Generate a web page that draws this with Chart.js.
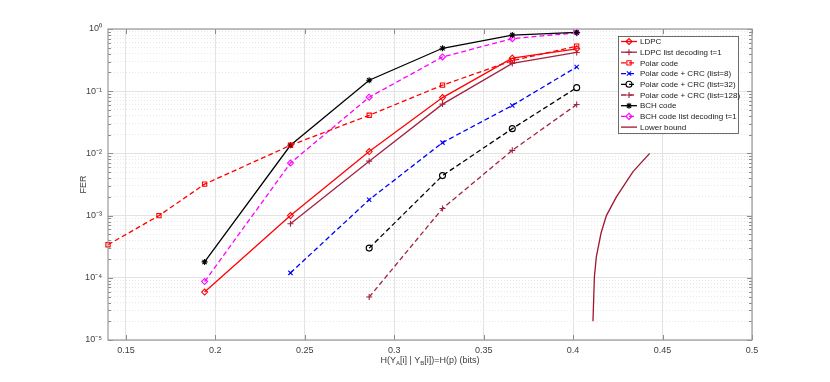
<!DOCTYPE html>
<html>
<head>
<meta charset="utf-8">
<script src="https://cdn.jsdelivr.net/npm/chart.js@4/dist/chart.umd.min.js"></script>
<style>
  html, body { margin: 0; padding: 0; background: #fff; }
  #wrap { width: 830px; height: 382px; }
</style>
</head>
<body>
<div id="wrap"><canvas id="ferChart" width="830" height="382"></canvas></div>
<script>
// x = H(p) in bits, y = FER
const ldpcX = [0.194, 0.242, 0.286, 0.327, 0.366, 0.402];
const ldpcFER = [5.9e-5, 1.0e-3, 1.07e-2, 7.9e-2, 0.34, 0.48];
const ldpcListX = [0.242, 0.286, 0.327, 0.366, 0.402];
const ldpcListFER = [7.4e-4, 7.5e-3, 6.2e-2, 0.28, 0.42];
const polarX = [0.140, 0.1685, 0.194, 0.242, 0.286, 0.327, 0.366, 0.402];
const polarFER = [3.4e-4, 1.0e-3, 3.2e-3, 1.35e-2, 4.1e-2, 0.125, 0.31, 0.53];
const crc8X = [0.242, 0.286, 0.327, 0.366, 0.402];
const crc8FER = [1.2e-4, 1.8e-3, 1.49e-2, 5.9e-2, 0.245];
const crc32X = [0.286, 0.327, 0.366, 0.402];
const crc32FER = [3.0e-4, 4.4e-3, 2.5e-2, 0.114];
const crc128X = [0.286, 0.327, 0.366, 0.402];
const crc128FER = [4.9e-5, 1.3e-3, 1.12e-2, 6.1e-2];
const bchX = [0.194, 0.242, 0.286, 0.327, 0.366, 0.402];
const bchFER = [1.8e-4, 1.35e-2, 0.15, 0.49, 0.80, 0.88];
const bchListX = [0.194, 0.242, 0.286, 0.327, 0.366, 0.402];
const bchListFER = [8.7e-5, 7.0e-3, 8.0e-2, 0.355, 0.70, 0.87];
const boundX = [0.4111, 0.4119, 0.4130, 0.4156, 0.4186, 0.4242, 0.4335, 0.4428];
const boundFER = [2.0e-5, 1.04e-4, 2.2e-4, 5.2e-4, 1.0e-3, 2.0e-3, 5.1e-3, 1.0e-2];

const xTicks = [0.15, 0.2, 0.25, 0.3, 0.35, 0.4, 0.45, 0.5];
const xTickLabels = ['0.15', '0.2', '0.25', '0.3', '0.35', '0.4', '0.45', '0.5'];
const yMajor = [1e-5, 1e-4, 1e-3, 1e-2, 1e-1, 1];
const yTickLabels = ['10\u207B\u2075', '10\u207B\u2074', '10\u207B\u00B3', '10\u207B\u00B2', '10\u207B\u00B9', '10\u2070'];

const DASH = [5, 3];

function pts(xs, ys) {
    return xs.map((x, i) => ({ x: x, y: ys[i] }));
}

function series(label, xs, ys, color, style, dashed) {
    return {
        label: label,
        data: pts(xs, ys),
        borderColor: color,
        backgroundColor: 'rgba(0,0,0,0)',
        borderWidth: 1.3,
        borderDash: dashed ? DASH : [],
        pointStyle: style,
        pointRadius: style ? 3 : 0,
        pointBorderColor: color,
        pointBorderWidth: 1.1,
        pointBackgroundColor: 'rgba(0,0,0,0)',
        showLine: true,
        clip: false,
        fill: false,
        tension: 0
    };
}

const isMajor = v => yMajor.some(m => Math.abs(Math.log10(v) - Math.log10(m)) < 1e-6);

// grid box, inner ticks and the x label with subscripts
const framePlugin = {
    id: 'frame',
    afterDraw(chart) {
        const { ctx, chartArea: a, scales } = chart;
        ctx.save();
        ctx.strokeStyle = '#8c8c8c';
        ctx.lineWidth = 1;
        scales.y.ticks.forEach(t => {
            const py = Math.round(scales.y.getPixelForValue(t.value)) + 0.5;
            const len = isMajor(t.value) ? 5 : 3;
            ctx.beginPath();
            ctx.moveTo(a.left, py); ctx.lineTo(a.left + len, py);
            ctx.moveTo(a.right, py); ctx.lineTo(a.right - len, py);
            ctx.stroke();
        });
        scales.x.ticks.forEach(t => {
            const px = Math.round(scales.x.getPixelForValue(t.value)) + 0.5;
            ctx.beginPath();
            ctx.moveTo(px, a.bottom); ctx.lineTo(px, a.bottom - 5);
            ctx.moveTo(px, a.top); ctx.lineTo(px, a.top + 5);
            ctx.stroke();
        });
        ctx.strokeStyle = '#9a9a9a';
        ctx.lineWidth = 1.2;
        ctx.strokeRect(a.left, a.top, a.right - a.left, a.bottom - a.top);

        // x axis title
        const parts = [
            ['H(Y', 0], ['A', 1], ['[i] | Y', 0], ['B', 1], ['[i])=H(p) (bits)', 0]
        ];
        const big = '9px "Liberation Sans", Arial, sans-serif';
        const small = '6px "Liberation Sans", Arial, sans-serif';
        let w = 0;
        parts.forEach(p => { ctx.font = p[1] ? small : big; w += ctx.measureText(p[0]).width; });
        let x = (a.left + a.right) / 2 - w / 2;
        const base = 363;
        ctx.fillStyle = '#3c3c3c';
        ctx.textBaseline = 'alphabetic';
        ctx.textAlign = 'left';
        parts.forEach(p => {
            ctx.font = p[1] ? small : big;
            ctx.fillText(p[0], x, p[1] ? base + 2 : base);
            x += ctx.measureText(p[0]).width;
        });
        ctx.restore();
    }
};

// MATLAB style legend inside the plot area
const legendPlugin = {
    id: 'boxLegend',
    afterDraw(chart) {
        const ctx = chart.ctx;
        const bx = 618, by = 36, bw = 120, bh = 97, rowH = 10.7;
        ctx.save();
        ctx.fillStyle = '#ffffff';
        ctx.fillRect(bx, by, bw, bh);
        ctx.strokeStyle = '#4a4a4a';
        ctx.lineWidth = 0.8;
        ctx.strokeRect(bx + 0.5, by + 0.5, bw, bh);
        ctx.font = '8px "Liberation Sans", Arial, sans-serif';
        ctx.textBaseline = 'middle';
        chart.data.datasets.forEach((ds, i) => {
            const cy = by + 5.5 + i * rowH;
            ctx.strokeStyle = ds.borderColor;
            ctx.lineWidth = 1.3;
            ctx.setLineDash(ds.borderDash);
            ctx.beginPath();
            ctx.moveTo(bx + 3, cy); ctx.lineTo(bx + 19, cy);
            ctx.stroke();
            ctx.setLineDash([]);
            if (ds.pointStyle) {
                ctx.strokeStyle = ds.borderColor;
                ctx.fillStyle = 'rgba(0,0,0,0)';
                ctx.lineWidth = 1.1;
                Chart.helpers.drawPoint(ctx, { pointStyle: ds.pointStyle, radius: 3, borderWidth: 1.1, rotation: 0 }, bx + 11, cy);
            }
            ctx.fillStyle = '#1a1a1a';
            ctx.fillText(ds.label, bx + 22, cy + 0.5);
        });
        ctx.restore();
    }
};

const ctx = document.getElementById('ferChart').getContext('2d');
window.ferChart = new Chart(ctx, {
    type: 'scatter',
    data: {
        datasets: [
            series('LDPC', ldpcX, ldpcFER, '#ff0000', 'rectRot', false),
            series('LDPC list decoding t=1', ldpcListX, ldpcListFER, '#a2243f', 'cross', false),
            series('Polar code', polarX, polarFER, '#ff0000', 'rect', true),
            series('Polar code + CRC (list=8)', crc8X, crc8FER, '#0000ff', 'crossRot', true),
            series('Polar code + CRC (list=32)', crc32X, crc32FER, '#000000', 'circle', true),
            series('Polar code + CRC (list=128)', crc128X, crc128FER, '#a2243f', 'cross', true),
            series('BCH code', bchX, bchFER, '#000000', 'star', false),
            series('BCH code list decoding t=1', bchListX, bchListFER, '#ff00ff', 'rectRot', true),
            series('Lower bound', boundX, boundFER, '#a2142f', false, false)
        ]
    },
    options: {
        responsive: false,
        animation: false,
        layout: { padding: { left: 0, top: 29, right: 78, bottom: 0 } },
        plugins: {
            legend: { display: false },
            tooltip: { enabled: false }
        },
        scales: {
            x: {
                type: 'linear',
                min: 0.14,
                max: 0.5,
                afterBuildTicks: s => { s.ticks = xTicks.map(v => ({ value: v })); },
                afterFit: s => { s.height = 42; },
                ticks: {
                    callback: (v) => xTickLabels[xTicks.findIndex(t => Math.abs(t - v) < 1e-9)],
                    color: '#404040',
                    font: { size: 9, family: '"Liberation Sans", Arial, sans-serif' },
                    padding: 5,
                    maxRotation: 0,
                    autoSkip: false
                },
                grid: { color: '#e3e3e3', lineWidth: 1, drawTicks: false },
                border: { display: false }
            },
            y: {
                type: 'logarithmic',
                min: 1e-5,
                max: 1,
                afterBuildTicks: s => {
                    const t = [];
                    yMajor.forEach((m, i) => {
                        t.push({ value: m, major: true });
                        if (i < yMajor.length - 1) {
                            for (let k = 2; k <= 9; k++) t.push({ value: m * k });
                        }
                    });
                    s.ticks = t;
                },
                afterFit: s => { s.width = 108; },
                ticks: {
                    callback: (v) => {
                        const i = yMajor.findIndex(m => Math.abs(Math.log10(v) - Math.log10(m)) < 1e-6);
                        return i >= 0 ? yTickLabels[i] : '';
                    },
                    color: '#404040',
                    font: { size: 9, family: '"Liberation Sans", Arial, sans-serif' },
                    padding: 6,
                    autoSkip: false
                },
                title: {
                    display: true,
                    text: 'FER',
                    color: '#404040',
                    font: { size: 9, family: '"Liberation Sans", Arial, sans-serif' },
                    padding: { top: 78, bottom: 0 }
                },
                grid: {
                    color: c => (c.tick && isMajor(c.tick.value)) ? '#e3e3e3' : '#e8e8e8',
                    lineWidth: 1,
                    drawTicks: false
                },
                border: {
                    display: false,
                    dash: c => (c.tick && isMajor(c.tick.value)) ? [] : [1, 2]
                }
            }
        }
    },
    plugins: [framePlugin, legendPlugin]
});
</script>
</body>
</html>
